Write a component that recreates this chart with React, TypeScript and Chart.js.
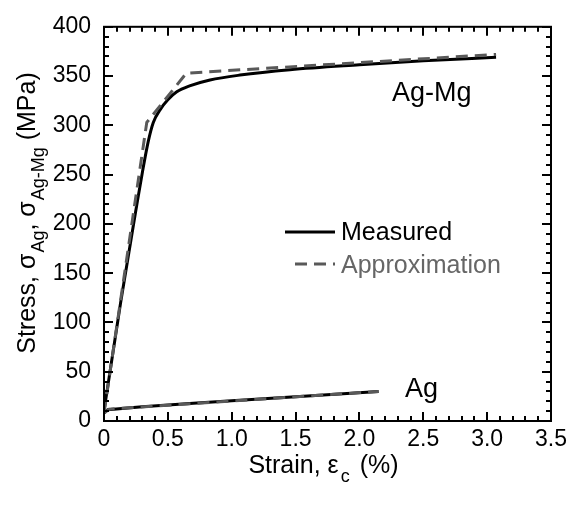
import React, { useEffect, useRef } from "react";
import { Chart, registerables } from "chart.js";

Chart.register(...registerables);

// ---- data ----
const agMgMeasuredStrain = [0, 0.13, 0.255, 0.3, 0.347, 0.386, 0.44, 0.5, 0.57, 0.67, 0.83, 1.065, 1.456, 2.0, 2.5, 3.07];
const agMgMeasuredStress = [10, 120, 218, 252, 284, 303, 316, 326, 334, 340, 346, 351, 356.5, 361.5, 365.5, 369];
const agMgApproxStrain = [0, 0.335, 0.645, 3.07];
const agMgApproxStress = [8, 303, 353, 372];
const agMeasuredStrain = [0, 0.03, 0.3, 0.7, 1.0, 1.5, 2.15];
const agMeasuredStress = [8, 11.5, 14.5, 18, 20.5, 24.7, 30];
const agApproxStrain = [0, 0.04, 2.15];
const agApproxStress = [8, 12, 30];

const xTicks = [0, 0.5, 1, 1.5, 2, 2.5, 3, 3.5];
const yTicks = [0, 50, 100, 150, 200, 250, 300, 350, 400];

const FONT = "'Liberation Sans', Arial, Helvetica, sans-serif";

const pts = (xs: number[], ys: number[]) => xs.map((x, i) => ({ x, y: ys[i] }));

const decorPlugin = {
  id: "decor",
  afterDraw(chart: any) {
    const ctx = chart.ctx as CanvasRenderingContext2D;
    const { left, right, top, bottom } = chart.chartArea;
    const xs = chart.scales.x;
    const ys = chart.scales.y;
    ctx.save();
    // frame
    ctx.strokeStyle = "#000";
    ctx.lineWidth = 2;
    ctx.strokeRect(left, top, right - left, bottom - top);
    // ticks
    ctx.beginPath();
    for (let i = 0; i <= 35; i++) {
      const px = Math.round(xs.getPixelForValue(i / 10));
      const len = i % 5 === 0 ? 9 : 5;
      ctx.moveTo(px, bottom);
      ctx.lineTo(px, bottom - len);
      ctx.moveTo(px, top);
      ctx.lineTo(px, top + len);
    }
    for (let i = 0; i <= 40; i++) {
      const py = Math.round(ys.getPixelForValue(i * 10));
      const len = i % 5 === 0 ? 9 : 5;
      ctx.moveTo(left, py);
      ctx.lineTo(left + len, py);
      ctx.moveTo(right, py);
      ctx.lineTo(right - len, py);
    }
    ctx.stroke();

    // curve labels
    ctx.fillStyle = "#000";
    ctx.textBaseline = "alphabetic";
    ctx.textAlign = "left";
    ctx.font = `27px ${FONT}`;
    ctx.fillText("Ag-Mg", xs.getPixelForValue(2.255), ys.getPixelForValue(325));
    ctx.fillText("Ag", xs.getPixelForValue(2.357), ys.getPixelForValue(24));

    // legend
    ctx.font = `25px ${FONT}`;
    ctx.textBaseline = "middle";
    ctx.lineWidth = 3;
    ctx.strokeStyle = "#000";
    ctx.beginPath();
    ctx.moveTo(285, 232);
    ctx.lineTo(335, 232);
    ctx.stroke();
    ctx.fillStyle = "#000";
    ctx.fillText("Measured", 341, 233);
    ctx.strokeStyle = "#595959";
    ctx.setLineDash([12, 7]);
    ctx.beginPath();
    ctx.moveTo(295, 264);
    ctx.lineTo(335, 264);
    ctx.stroke();
    ctx.setLineDash([]);
    ctx.fillStyle = "#666";
    ctx.fillText("Approximation", 341, 266);

    // x title
    ctx.fillStyle = "#000";
    ctx.textBaseline = "alphabetic";
    const main = `25px ${FONT}`;
    const sub = `18px ${FONT}`;
    const xParts: [string, string, number, number][] = [
      ["Strain, \u03b5", main, 0, 2],
      ["c", sub, 9, 3],
      [" (%)", main, 0, 0],
    ];
    let tw = 0;
    for (const [t, f, , g] of xParts) { ctx.font = f; tw += ctx.measureText(t).width + g; }
    let cx = (left + right) / 2 - tw / 2 - 4;
    const xBase = 473;
    for (const [t, f, dy, g] of xParts) {
      ctx.font = f;
      ctx.fillText(t, cx, xBase + dy);
      cx += ctx.measureText(t).width + g;
    }

    // y title
    const yParts: [string, string, number, number][] = [
      ["Stress, \u03c3", main, 0, 1],
      ["Ag", sub, 9, 0],
      [", \u03c3", main, 0, 1],
      ["Ag-Mg", sub, 9, 0],
      [" (MPa)", main, 0, 0],
    ];
    tw = 0;
    for (const [t, f, , g] of yParts) { ctx.font = f; tw += ctx.measureText(t).width + g; }
    ctx.translate(35, 213);
    ctx.rotate(-Math.PI / 2);
    let cy = -tw / 2;
    for (const [t, f, dy, g] of yParts) {
      ctx.font = f;
      ctx.fillText(t, cy, dy);
      cy += ctx.measureText(t).width + g;
    }
    ctx.restore();
  },
};

export default function App() {
  const ref = useRef<HTMLCanvasElement | null>(null);
  useEffect(() => {
    if (!ref.current) return;
    const chart = new Chart(ref.current, {
      type: "scatter",
      data: {
        datasets: [
          {
            label: "Ag-Mg Approximation",
            data: pts(agMgApproxStrain, agMgApproxStress),
            showLine: true,
            borderColor: "#595959",
            borderWidth: 3,
            borderDash: [12, 7],
            pointRadius: 0,
            tension: 0,
          },
          {
            label: "Ag Approximation",
            data: pts(agApproxStrain, agApproxStress),
            showLine: true,
            borderColor: "#595959",
            borderWidth: 3,
            borderDash: [12, 7],
            pointRadius: 0,
            tension: 0,
          },
          {
            label: "Ag-Mg Measured",
            data: pts(agMgMeasuredStrain, agMgMeasuredStress),
            showLine: true,
            borderColor: "#000",
            borderWidth: 3,
            pointRadius: 0,
            cubicInterpolationMode: "monotone",
          },
          {
            label: "Ag Measured",
            data: pts(agMeasuredStrain, agMeasuredStress),
            showLine: true,
            borderColor: "#000",
            borderWidth: 3,
            pointRadius: 0,
            tension: 0,
          },
        ],
      },
      options: {
        animation: false,
        responsive: false,
        maintainAspectRatio: false,
        layout: { padding: { top: 15, right: 32, left: 0, bottom: 0 } },
        plugins: { legend: { display: false }, tooltip: { enabled: false } },
        scales: {
          x: {
            type: "linear",
            min: 0,
            max: 3.5,
            afterBuildTicks: (s: any) => { s.ticks = xTicks.map((v) => ({ value: v })); },
            afterFit: (s: any) => { s.height = 85; },
            grid: { display: false, drawTicks: false },
            border: { display: false },
            ticks: { color: "#000", font: { family: FONT, size: 23 }, padding: 5, maxRotation: 0 },
          },
          y: {
            type: "linear",
            min: 0,
            max: 400,
            afterBuildTicks: (s: any) => { s.ticks = yTicks.map((v) => ({ value: v })); },
            afterFit: (s: any) => { s.width = 104; },
            grid: { display: false, drawTicks: false },
            border: { display: false },
            ticks: { color: "#000", font: { family: FONT, size: 23 }, padding: 13 },
          },
        },
      },
      plugins: [decorPlugin],
    } as any);
    return () => chart.destroy();
  }, []);
  return (
    <div style={{ position: "absolute", left: 0, top: 0, width: 583, height: 506, background: "#fff" }}>
      <canvas ref={ref} width={583} height={506} style={{ display: "block" }} />
    </div>
  );
}
